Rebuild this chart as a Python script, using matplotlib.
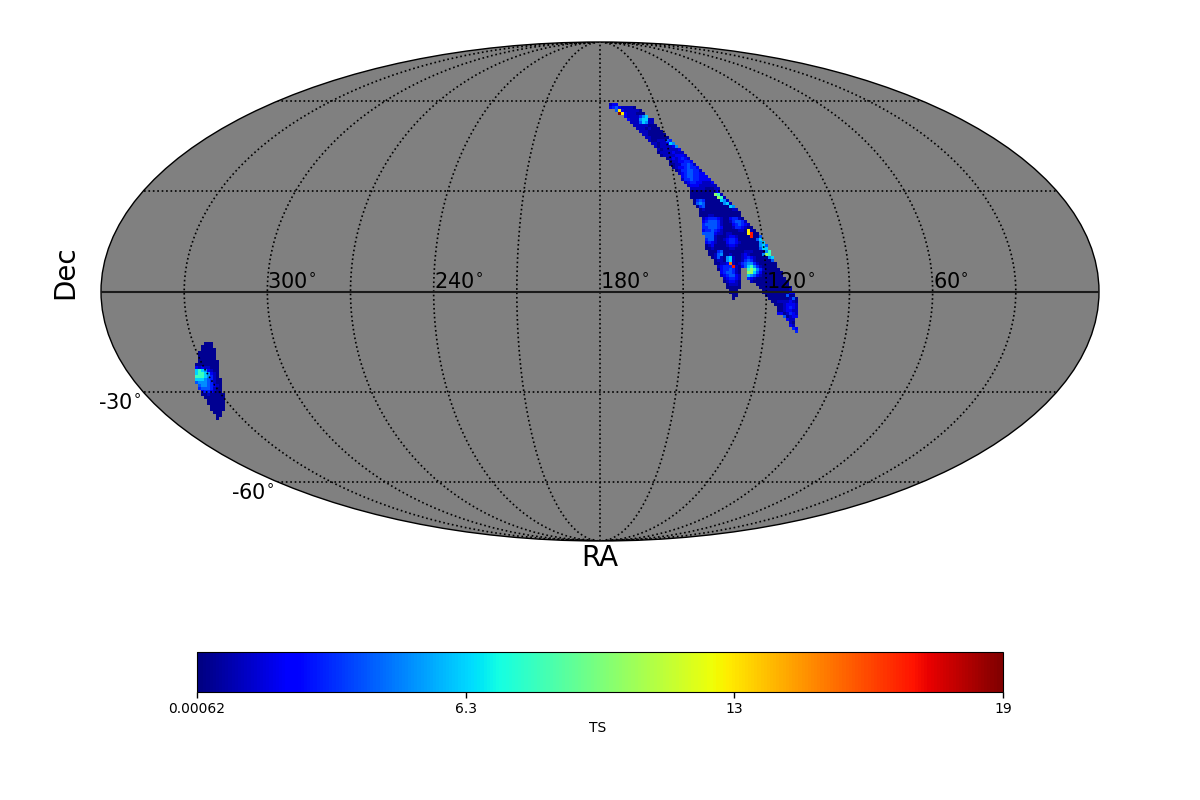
import numpy as np
import matplotlib
matplotlib.use("Agg")
import matplotlib.pyplot as plt
from matplotlib.cm import ScalarMappable
from matplotlib.colors import Normalize

TS_MIN = 0.00062
TS_MAX = 18.99
CBAR_TICKS = [0.00062, 6.33, 12.66, 18.99]
CBAR_LABELS = ["0.00062", "6.3", "13", "19"]
RA_LABELS = [300, 240, 180, 120, 60]
DEC_LABELS = [-30, -60]

# TS value for each symbol of the sky tables below; a blank is an unobserved cell
TS_LEVELS = {"0": 0.3, "1": 1.1, "2": 2.0, "3": 3.0, "4": 4.0, "5": 5.0, "6": 6.3,
             "7": 8.0, "8": 10.0, "9": 12.5, "o": 15.0, "r": 16.8, "d": 18.8}

# Equal-area sky cells: each row runs north to south, as (first column, TS symbols)
NORTH_TOP_ROW = 63
NORTH_ARC = [
    (3, "122"),
    (3, "234211110"),
    (5, "492111110"),
    (6, "d92111000"),
    (8, "21111356"),
    (9, "211156611"),
    (10, "11146511"),
    (11, "11111000"),
    (12, "11101000"),
    (13, "11100000"),
    (14, "11000000"),
    (15, "11000000"),
    (16, "10011143"),
    (17, "11011265"),
    (18, "10111125"),
    (19, "10111112"),
    (19, "011112111"),
    (20, "011112221"),
    (22, "01212321"),
    (23, "01122332"),
    (23, "001133431"),
    (24, "012234332"),
    (25, "013344331"),
    (26, "123443322"),
    (27, "234433222"),
    (27, "1334332222"),
    (28, "1233221112"),
    (29, "1222111111"),
    (30, "1111100011"),
    (30, "0000000012"),
    (30, "00000000871"),
    (30, "000000000871"),
    (31, "034300000651"),
    (31, "0454000000561"),
    (32, "0340000000065"),
    (33, "0100000000011"),
    (33, "00000000000000"),
    (33, "00011000000000"),
    (34, "12333210023310"),
    (34, "234443100134431"),
    (34, "3444431000234321"),
    (34, "33444320001332100"),
    (34, "233432100000110910"),
    (34, "4444211011000009r00"),
    (35, "444100012210000r004"),
    (35, "3441001233200000046"),
    (35, "23210002332100000056"),
    (35, "012000012210000000564"),
    (35, "001000001100000000466"),
    (36, "000340000000111000057"),
    (36, "001450010001210000587"),
    (37, "014105610012321000056"),
    (38, "01105610013431000004"),
    (38, "00112o101345531000000"),
    (39, "12333r10246753100000"),
    (39, "02334310  78753100000"),
    (40, "2344310  886420000000"),
    (40, "1234421  654210000000"),
    (41, "123321  3210000000000"),
    (41, "012210   1000000000000"),
    (42, "01110     00000000000"),
    (42, "00000      00000000001"),
    (43, "000        0000000001"),
    (43, "000        00000000022"),
    (44, "00         0000000400"),
    (44, "0           0000000140"),
    (57, "001111210"),
    (58, "00012221"),
    (59, "0012321"),
    (59, "0012211"),
    (59, "2201321"),
    (61, "40122"),
    (62, "211"),
    (63, "10"),
    (63, "21"),
    (64, "32"),
    (65, "3"),
]

SOUTH_TOP_ROW = -17
SOUTH_PATCH = [
    (-132, "000"),
    (-133, "0000"),
    (-133, "00000"),
    (-134, "000000"),
    (-134, "000000"),
    (-134, "000000"),
    (-134, "0000000"),
    (-135, "00000000"),
    (-135, "21211000"),
    (-135, "67652100"),
    (-135, "67765210"),
    (-135, "77765310"),
    (-135, "666543100"),
    (-135, "455543100"),
    (-134, "45543210"),
    (-134, "34443100"),
    (-133, "2332100"),
    (-133, "00100000"),
    (-132, "0000000"),
    (-131, "000000"),
    (-131, "000000"),
    (-130, "00000"),
    (-130, "00000"),
    (-129, "000"),
    (-128, "00"),
    (-128, "0"),
]

CELL = 2.0 * np.sqrt(2.0) * 3.0 / 499.0  # cell side in Mollweide plane units


def draw_cells(ax, rows, top_row, norm, cmap):
    """Draw one block of sky cells as a quad mesh in longitude/latitude."""
    first = min(start for start, _ in rows)
    last = max(start + len(text) for start, text in rows)
    grid = np.ma.masked_all((len(rows), last - first))
    for i, (start, text) in enumerate(rows):
        for j, symbol in enumerate(text):
            if symbol != " ":
                grid[i, start - first + j] = TS_LEVELS[symbol]
    px, py = np.meshgrid(np.arange(first, last + 1) * CELL,
                         (top_row - np.arange(len(rows) + 1)) * CELL)
    plane = np.column_stack([px.ravel(), py.ravel()])
    sky = ax.transProjection.inverted().transform(plane)
    lon = sky[:, 0].reshape(px.shape)
    lat = sky[:, 1].reshape(px.shape)
    ax.pcolormesh(lon, lat, grid, cmap=cmap, norm=norm, shading="flat",
                  antialiased=False, linewidth=0, zorder=1)


fig = plt.figure(figsize=(12, 8), dpi=100)
ax = fig.add_axes([101 / 1200, 259 / 800, 998 / 1200, 499 / 800], projection="mollweide")
ax.set_facecolor("#808080")

cmap = plt.get_cmap("jet")
norm = Normalize(vmin=TS_MIN, vmax=TS_MAX)
draw_cells(ax, NORTH_ARC, NORTH_TOP_ROW, norm, cmap)
draw_cells(ax, SOUTH_PATCH, SOUTH_TOP_ROW, norm, cmap)

# Graticule: dotted meridians and parallels every 30 degrees, right-ascension flipped
ax.set_longitude_grid(30)
ax.set_latitude_grid(30)
ax.set_longitude_grid_ends(89.9)
ax.grid(True, color="black", linestyle=":", linewidth=1.2)
ax.set_axisbelow(False)
ax.xaxis.set_ticklabels([])
ax.yaxis.set_ticklabels([])
ax.plot([-np.pi, np.pi], [0, 0], color="#1a1a1a", linewidth=1.5, zorder=4)
for spine in ax.spines.values():
    spine.set_linewidth(1.0)

for ra in RA_LABELS:
    ax.annotate(f"{ra}$^{{\\circ}}$", xy=(np.radians(180 - ra), 0), xytext=(0, -0.5),
                textcoords="offset points", ha="left", va="bottom", fontsize=15, zorder=5)
for dec in DEC_LABELS:
    ax.annotate(f"{dec}$^{{\\circ}}$", xy=(-np.pi, np.radians(dec)), xytext=(-1.8, -0.7),
                textcoords="offset points", ha="right", va="top", fontsize=15, zorder=5,
                annotation_clip=False)

fig.text(65 / 1200, 1 - 272 / 800, "Dec", rotation=90, ha="center", va="center", fontsize=20)
fig.text(600 / 1200, 1 - 558 / 800, "RA", ha="center", va="center", fontsize=20)

cax = fig.add_axes([197 / 1200, 108 / 800, 806 / 1200, 40 / 800])
bar = fig.colorbar(ScalarMappable(norm=norm, cmap=cmap), cax=cax, orientation="horizontal")
bar.set_ticks(CBAR_TICKS)
bar.set_ticklabels(CBAR_LABELS)
bar.ax.tick_params(labelsize=10, length=4, width=1)
bar.ax.minorticks_off()
fig.text(597.5 / 1200, 1 - 728.5 / 800, "TS", ha="center", va="center", fontsize=10)

fig.savefig("out.png", dpi=100)
